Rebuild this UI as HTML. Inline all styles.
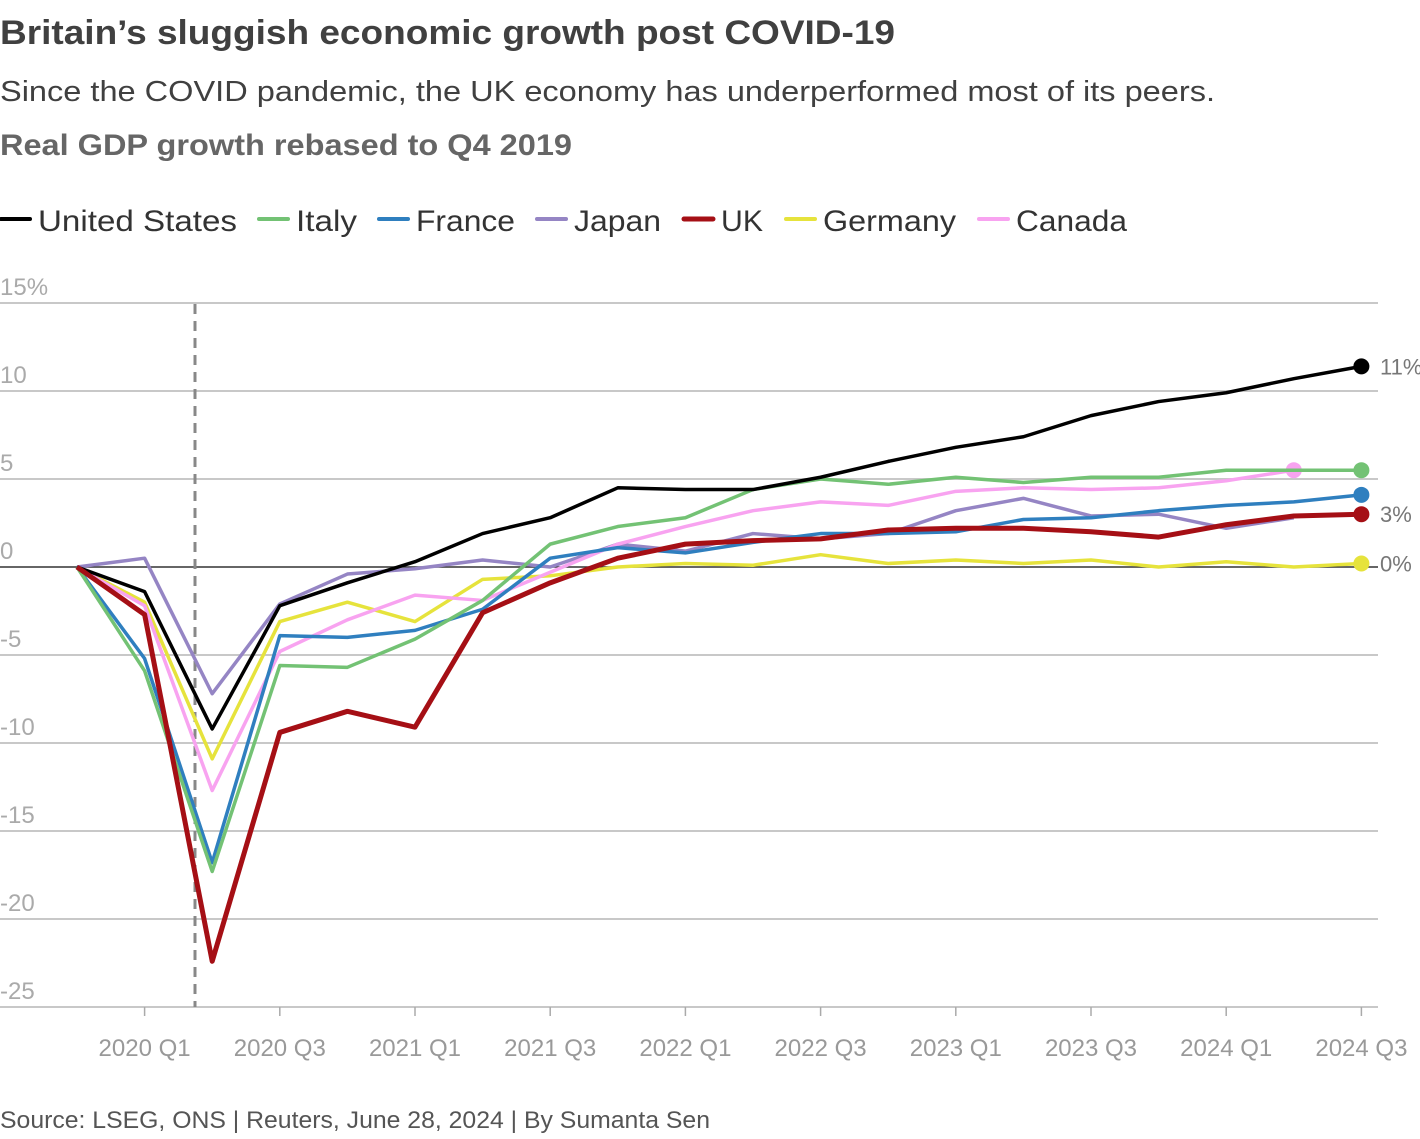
<!DOCTYPE html>
<html><head><meta charset="utf-8"><style>
body{margin:0;background:#fff;width:1420px;height:1134px;overflow:hidden;font-family:"Liberation Sans",sans-serif}
svg text{font-family:"Liberation Sans",sans-serif}
</style></head><body>
<svg id="c" width="1420" height="1134">
<text x="0" y="44" font-size="34" font-weight="bold" fill="#404040" textLength="895" lengthAdjust="spacingAndGlyphs">Britain’s sluggish economic growth post COVID-19</text>
<text x="0" y="101" font-size="29" fill="#404040" textLength="1215" lengthAdjust="spacingAndGlyphs">Since the COVID pandemic, the UK economy has underperformed most of its peers.</text>
<text x="0" y="155" font-size="30" font-weight="bold" fill="#666" textLength="572" lengthAdjust="spacingAndGlyphs">Real GDP growth rebased to Q4 2019</text>
<g id="legend"></g>
<g id="grid"></g>
<g id="series"></g>
<text x="0" y="1128" font-size="24" fill="#555" textLength="710" lengthAdjust="spacingAndGlyphs">Source: LSEG, ONS | Reuters, June 28, 2024 | By Sumanta Sen</text>
</svg>
<script>
const names=["United States","Italy","France","Japan","UK","Germany","Canada"];
const colors=["#000000","#73c274","#2f7fbf","#9585c4","#a50f15","#e6e33c","#f8a3f0"];
const us=[0,-1.4,-9.2,-2.2,-0.9,0.3,1.9,2.8,4.5,4.4,4.4,5.1,6.0,6.8,7.4,8.6,9.4,9.9,10.7,11.4];
const italy=[0,-5.9,-17.3,-5.6,-5.7,-4.1,-1.9,1.3,2.3,2.8,4.4,5.0,4.7,5.1,4.8,5.1,5.1,5.5,5.5,5.5];
const france=[0,-5.2,-16.8,-3.9,-4.0,-3.6,-2.4,0.5,1.1,0.8,1.4,1.9,1.9,2.0,2.7,2.8,3.2,3.5,3.7,4.1];
const japan=[0,0.5,-7.2,-2.1,-0.4,-0.1,0.4,0.0,1.3,0.9,1.9,1.6,1.9,3.2,3.9,2.9,3.0,2.2,2.8];
const uk=[0,-2.7,-22.4,-9.4,-8.2,-9.1,-2.6,-0.9,0.5,1.3,1.5,1.6,2.1,2.2,2.2,2.0,1.7,2.4,2.9,3.0];
const germany=[0,-2.0,-10.9,-3.1,-2.0,-3.1,-0.7,-0.5,0.0,0.2,0.1,0.7,0.2,0.4,0.2,0.4,0.0,0.3,0.0,0.2];
const canada=[0,-2.2,-12.7,-4.8,-3.0,-1.6,-1.9,-0.3,1.3,2.3,3.2,3.7,3.5,4.3,4.5,4.4,4.5,4.9,5.5];
const yTicks=[15,10,5,0,-5,-10,-15,-20,-25];
const xTickLabels=["2020 Q1","2020 Q3","2021 Q1","2021 Q3","2022 Q1","2022 Q3","2023 Q1","2023 Q3","2024 Q1","2024 Q3"];
const endLabels=[["11%",0],["3%",4],["0%",5]];
const ns="http://www.w3.org/2000/svg";
function X(i){return 77+i*67.6;}
function Y(v){return 567-v*17.6;}
function mk(t,a,p){const e=document.createElementNS(ns,t);for(const k in a)e.setAttribute(k,a[k]);p.appendChild(e);return e;}
const grid=document.getElementById('grid'),ser=document.getElementById('series'),leg=document.getElementById('legend');
yTicks.forEach(v=>{
 const l=mk('line',{x1:0,x2:1378,y1:Y(v),y2:Y(v),stroke:v===0?'#333':'#c8c8c8','stroke-width':v===0?1.5:2},grid);
 
 
 const t=mk('text',{x:0,y:Y(v)-8,'font-size':24,fill:'#aaa'},grid);t.textContent=v===15?'15%':String(v);
 
 
});
xTickLabels.forEach((s,k)=>{
 const x=X(1+2*k);
 const l=mk('line',{x1:x,x2:x,y1:1007,y2:1016,stroke:'#aaa','stroke-width':1.5},grid);
 
 
 const t=mk('text',{x:x,y:1056,'font-size':24,fill:'#999','text-anchor':'middle'},grid);t.textContent=s;
 
 
});
const d=mk('line',{x1:195,x2:195,y1:304,y2:1007,stroke:'#888','stroke-width':3,'stroke-dasharray':'10,7'},grid);


const data=[us,italy,france,japan,uk,germany,canada];
const order=[5,3,6,2,1,0,4];
order.forEach(i=>{
 const arr=data[i];
 const p=mk('polyline',{points:arr.map((v,j)=>X(j)+','+Y(v)).join(' '),fill:'none',stroke:colors[i],'stroke-width':i===4?5:3.5,'stroke-linejoin':'round'},ser);
 
 
 if(i!==3){const c=mk('circle',{cx:X(arr.length-1),cy:Y(arr[arr.length-1]),r:8,fill:colors[i]},ser);
 
 }
});
endLabels.forEach(([s,i])=>{
 const a=data[i];
 const t=mk('text',{x:1380,y:Y(a[a.length-1])+8,'font-size':22,fill:'#777'},ser);t.textContent=s;
 
 
});
const lx=[0,258,378,536,683,785,978];
const lw=[199,61,99,87,42,133,111];
names.forEach((n,i)=>{
 const l=mk('line',{x1:lx[i]+1,x2:lx[i]+30,y1:219,y2:219,stroke:colors[i],'stroke-width':i===4?5:4,'stroke-linecap':'round'},leg);
 
 
 const t=mk('text',{x:lx[i]+38,y:231,'font-size':30,fill:'#333',textLength:lw[i],lengthAdjust:'spacingAndGlyphs'},leg);t.textContent=n;
 
 
});
</script>
</body></html>
